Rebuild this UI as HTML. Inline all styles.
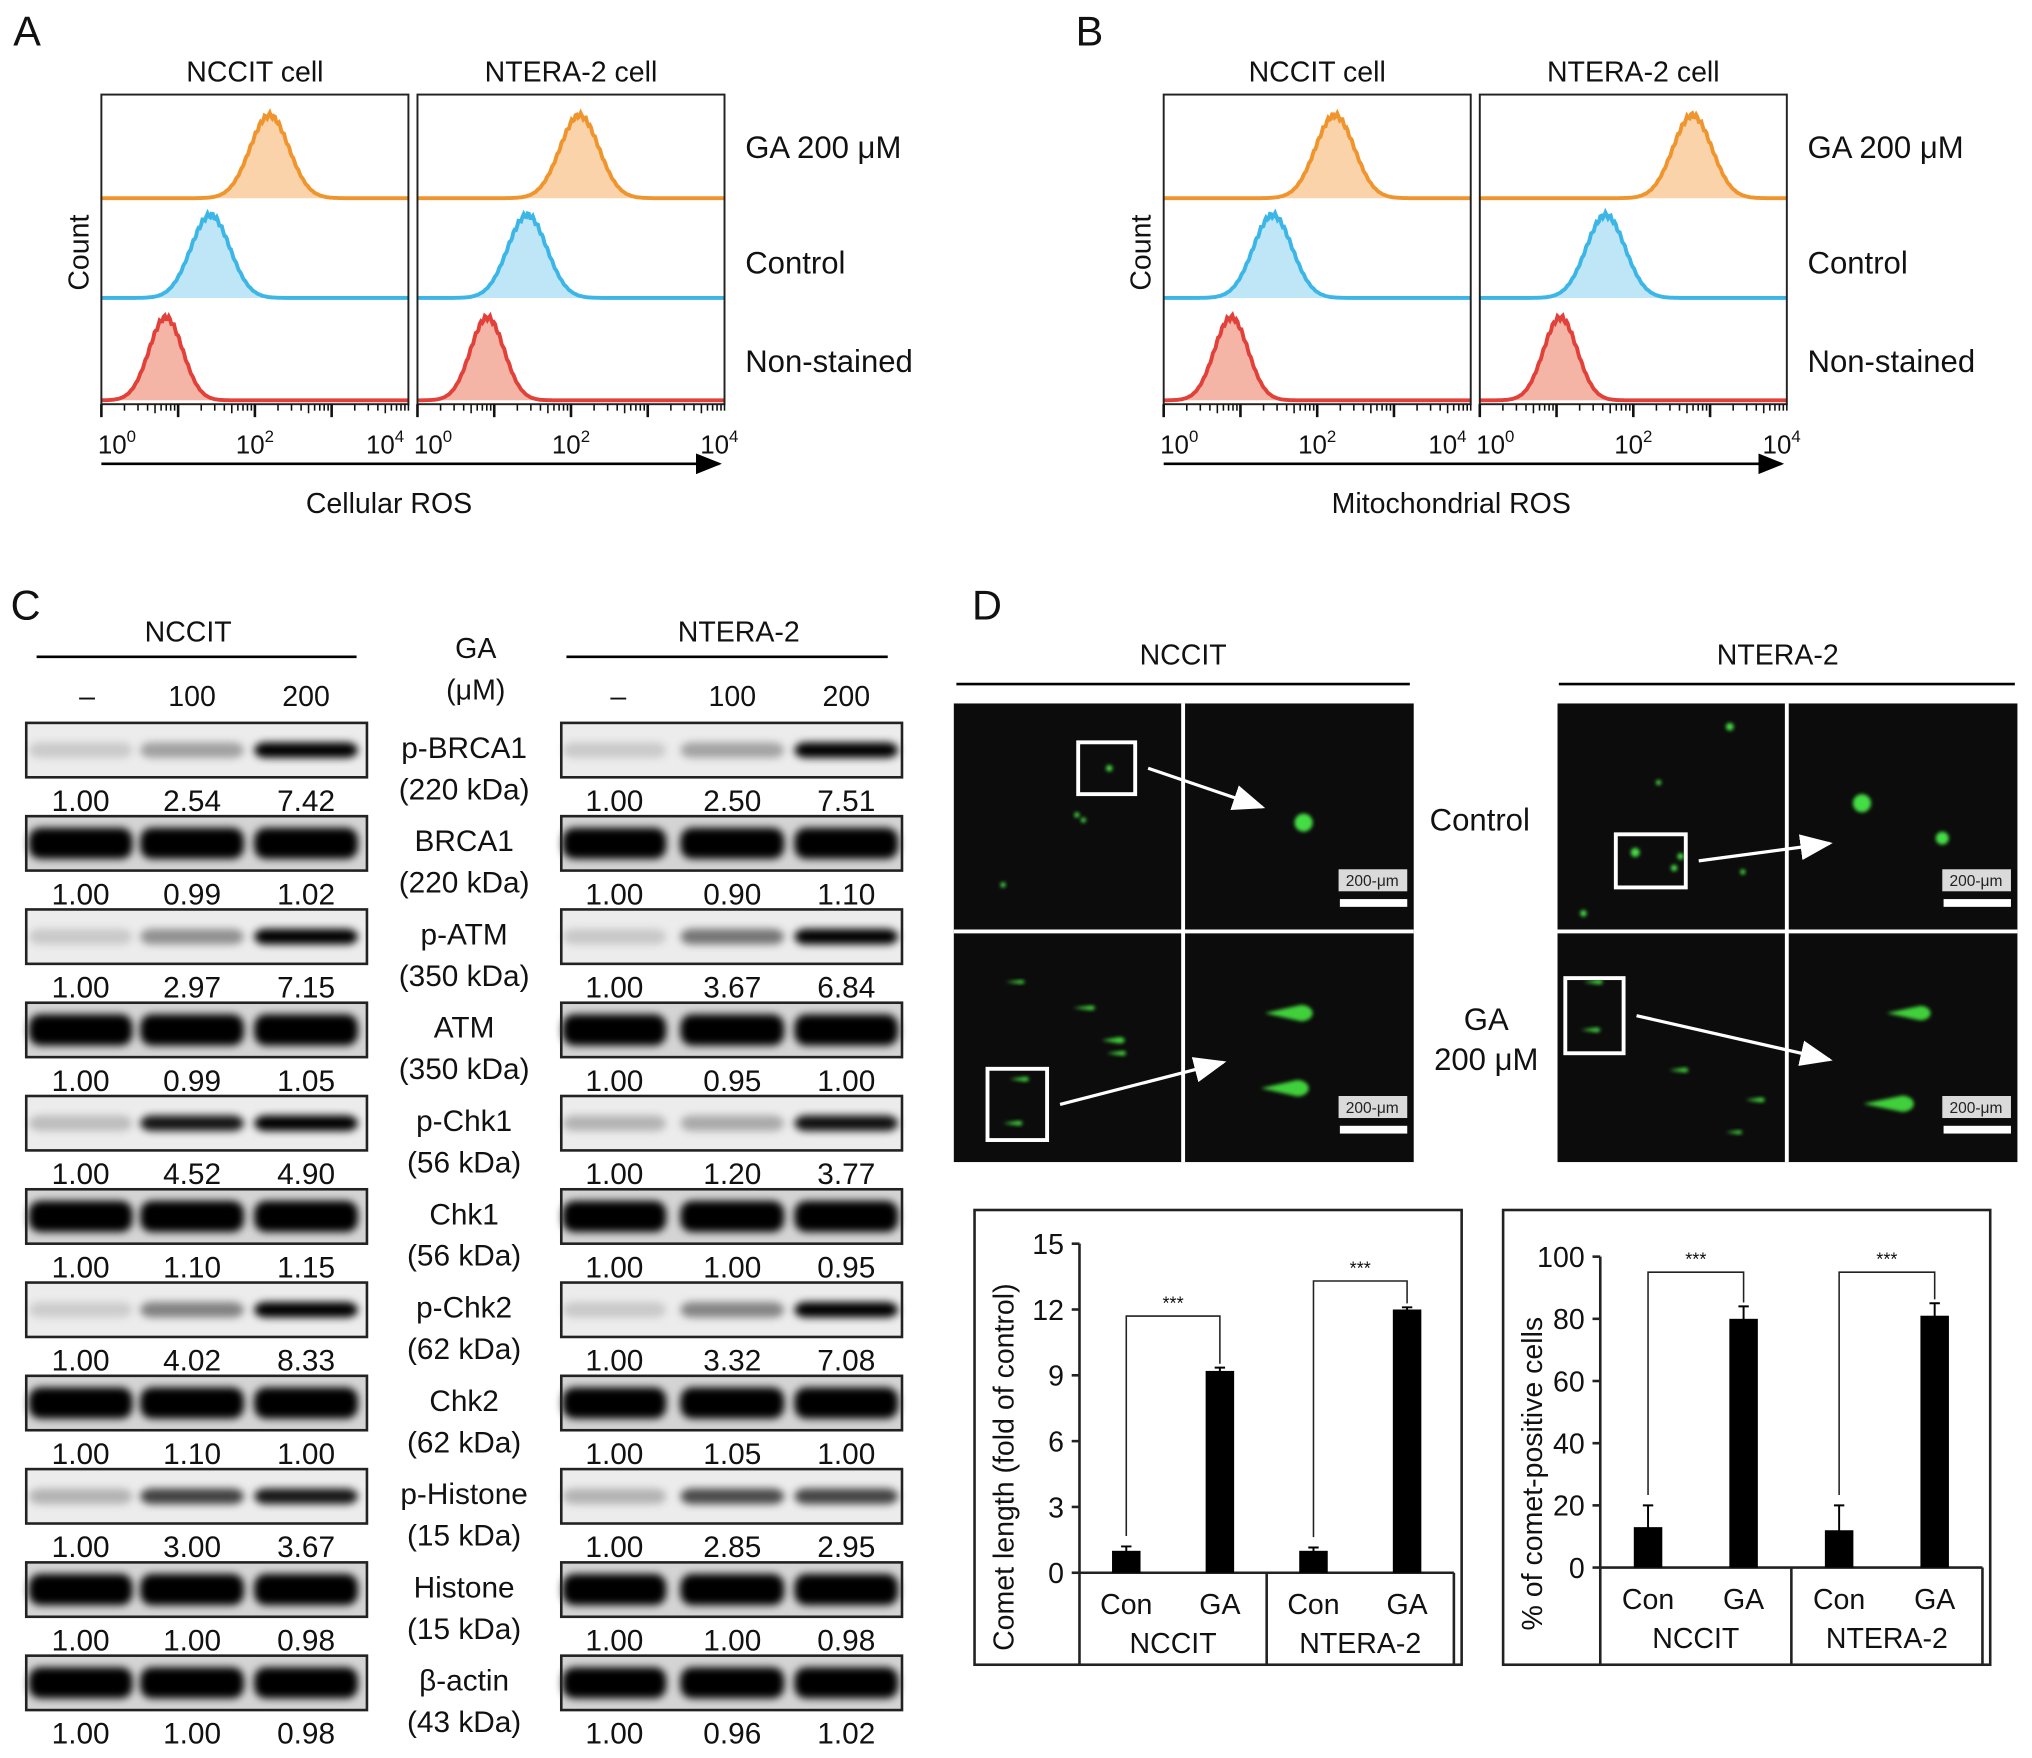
<!DOCTYPE html>
<html><head><meta charset="utf-8"><style>
html,body{margin:0;padding:0;background:#fff;}
svg{display:block;font-family:"Liberation Sans",sans-serif;}
</style></head><body>
<svg id="fig" width="2032" height="1758" viewBox="0 0 1568 1357" xmlns="http://www.w3.org/2000/svg">
<defs>
<filter id="blur" x="-20%" y="-50%" width="140%" height="200%"><feGaussianBlur stdDeviation="3"/></filter>
<filter id="gblur" x="-50%" y="-50%" width="200%" height="200%"><feGaussianBlur stdDeviation="1.5"/></filter>
<marker id="arr" markerWidth="10" markerHeight="8" refX="9" refY="4" orient="auto"><path d="M0,0 L10,4 L0,8 z" fill="#000"/></marker>
<marker id="warr" markerWidth="10" markerHeight="8" refX="9" refY="4" orient="auto"><path d="M0,0 L10,4 L0,8 z" fill="#fff"/></marker>
</defs>
</svg>
<script>
// ---------- data ----------
const cellRosNccit=[2.19,1.42,0.84];
const cellRosNtera=[2.11,1.43,0.91];
const mitoRosNccit=[2.23,1.42,0.88];
const mitoRosNtera=[2.77,1.64,1.05];
const histTickLabels=['0','2','4'];
const blotProteins=['p-BRCA1','BRCA1','p-ATM','ATM','p-Chk1','Chk1','p-Chk2','Chk2','p-Histone','Histone','β-actin'];
const blotSizes=['(220 kDa)','(220 kDa)','(350 kDa)','(350 kDa)','(56 kDa)','(56 kDa)','(62 kDa)','(62 kDa)','(15 kDa)','(15 kDa)','(43 kDa)'];
const blotNccit=[[1.00,2.54,7.42],[1.00,0.99,1.02],[1.00,2.97,7.15],[1.00,0.99,1.05],[1.00,4.52,4.90],[1.00,1.10,1.15],[1.00,4.02,8.33],[1.00,1.10,1.00],[1.00,3.00,3.67],[1.00,1.00,0.98],[1.00,1.00,0.98]];
const blotNtera=[[1.00,2.50,7.51],[1.00,0.90,1.10],[1.00,3.67,6.84],[1.00,0.95,1.00],[1.00,1.20,3.77],[1.00,1.00,0.95],[1.00,3.32,7.08],[1.00,1.05,1.00],[1.00,2.85,2.95],[1.00,1.00,0.98],[1.00,0.96,1.02]];
const doseLabels=['–','100','200'];
const barCats=['Con','GA','Con','GA'];
const groupLabels=['NCCIT','NTERA-2'];
const cometLength=[1.0,9.2,1.0,12.0];
const cometLengthErr=[0.2,0.15,0.15,0.1];
const cometLengthTicks=[0,3,6,9,12,15];
const cometPos=[13,80,12,81];
const cometPosErr=[7,4,8,4];
const cometPosTicks=[0,20,40,60,80,100];

// ---------- helpers ----------
const svg=document.getElementById('fig');
const NS='http://www.w3.org/2000/svg';
function mk(tag,attrs,parent){const e=document.createElementNS(NS,tag);for(const k in attrs)e.setAttribute(k,attrs[k]);(parent||svg).appendChild(e);return e;}
function nm(e,n){


return e;}
function txt(x,y,s,size,anchor,name,extra){const t=mk('text',Object.assign({x:x,y:y,'font-size':size,'text-anchor':anchor||'middle',fill:'#111'},extra||{}));t.textContent=s;nm(t,name);return t;}

// ---------- Flow panels ----------
const rowBase=[153,230,309];
const rowCols=[['#f0952e','#fbd3aa'],['#3bb6e6','#bfe6f6'],['#e2413a','#f4b5a6']];
function histBox(x0,peaks,title,name,first){
  const x1=x0+237,dec=(x1-x0)/4;
  const g=mk('g',{});nm(g,name);
  txt((x0+x1)/2,63,title,22,'middle',name+'-title');
  peaks.forEach((p,i)=>{
    const b=rowBase[i],cx=x0+p*dec,sig=i===2?13:15,h=64;
    let d=`M${x0},${b}`;
    for(let x=x0;x<=x1;x+=1){const z=(x-cx)/sig;const y=b-h*Math.exp(-z*z/2)*(1+0.03*Math.sin(x*1.7));d+=` L${x},${y.toFixed(1)}`;}
    const f=mk('path',{d:d+` L${x1},${b} Z`,fill:rowCols[i][1],stroke:'none'},g);nm(f,name+'-fill-'+i);
    const l=mk('path',{d:d.replace(`M${x0},${b} L`,'M'),fill:'none',stroke:rowCols[i][0],'stroke-width':3},g);nm(l,name+'-curve-'+i);
  });
  const r=mk('rect',{x:x0,y:73,width:237,height:239,fill:'none',stroke:'#222','stroke-width':1.5},g);nm(r,name+'-frame');
  for(let dd=0;dd<4;dd++)for(let k=1;k<=10;k++){const x=x0+dd*dec+Math.log10(k)*dec;const L=k===1?10:(k===5?7:5);
    const t=mk('line',{x1:x,y1:312,x2:x,y2:312+L,stroke:'#111','stroke-width':k===1?2:1.2},g);nm(t,name+'-tick');}
  [0,2,4].forEach((v,i)=>{const x=x0+v*dec;const off=i===0?12:(i===2?(first?-18:-4):0);const t=txt(x+off,350,'10',20,'middle',name+'-tick-label');
    const s=mk('tspan',{'font-size':13,dy:-9},t);s.textContent=histTickLabels[i];});
}
function flowPanel(ox,letter,pa,pb,xlab){
  txt(ox+10,35,letter,32,'start','panel-label-'+letter);
  histBox(ox+78,pa,'NCCIT cell','hist-nccit-'+letter,true);
  histBox(ox+322,pb,'NTERA-2 cell','hist-ntera-'+letter,false);
  txt(ox+575,122,'GA 200 μM',24,'start','label-ga');
  txt(ox+575,211,'Control',24,'start','label-control');
  txt(ox+575,287,'Non-stained',24,'start','label-nonstained');
  txt(0,0,'Count',22,'middle','y-axis-title',{transform:`translate(${ox+68},195) rotate(-90)`});
  const a=mk('line',{x1:ox+78,y1:358,x2:ox+555,y2:358,stroke:'#000','stroke-width':2,'marker-end':'url(#arr)'});nm(a,'x-axis-arrow');
  txt(ox+300,396,xlab,22,'middle','x-axis-title');
}
flowPanel(0,'A',cellRosNccit,cellRosNtera,'Cellular ROS');
flowPanel(820,'B',mitoRosNccit,mitoRosNtera,'Mitochondrial ROS');

// ---------- Western blot ----------
txt(8,478,'C',32,'start','panel-label-C');
txt(145,495,'NCCIT',22,'middle','header-nccit');
nm(mk('line',{x1:28,y1:507,x2:275,y2:507,stroke:'#000','stroke-width':2}),'header-line-nccit');
txt(570,495,'NTERA-2',22,'middle','header-ntera');
nm(mk('line',{x1:437,y1:507,x2:685,y2:507,stroke:'#000','stroke-width':2}),'header-line-ntera');
txt(367,508,'GA',22,'middle','ga-label');txt(367,540,'(μM)',22,'middle','ga-unit');
const colN=[62,148,236],colT=[474,565,653];
doseLabels.forEach((d,i)=>{txt(colN[i]+(i===0?5:0),545,d,22,'middle','dose-nccit');txt(colT[i]+(i===0?3:0),545,d,22,'middle','dose-ntera');});
function blot(x0,cols,vals,r,name){
  const y=558+r*72;
  const g=mk('g',{});nm(g,name);
  const phos=blotProteins[r].startsWith('p-');
  const bg=mk('rect',{x:x0,y:y,width:263,height:42,fill:phos?'#ececec':'#d4d4d4'},g);nm(bg,name+'-bg');
  const mx=Math.max(...vals);
  vals.forEach((v,i)=>{
    const op=phos?Math.min(1,0.06+0.94*Math.pow(v/Math.max(mx,4),1.2)):1;
    const e=mk('rect',{x:cols[i]-40,y:y+(phos?15:9),width:80,height:phos?12:24,rx:9,fill:'#000','fill-opacity':op,filter:'url(#blur)'},g);nm(e,name+'-band');
    txt(cols[i],y+68,v.toFixed(2),23,'middle',name+'-value');
  });
  const f=mk('rect',{x:x0,y:y,width:263,height:42,fill:'none',stroke:'#222','stroke-width':2},g);nm(f,name+'-frame');
}
blotProteins.forEach((p,r)=>{
  blot(20,colN,blotNccit[r],r,'blot-nccit-'+p);
  blot(433,colT,blotNtera[r],r,'blot-ntera-'+p);
  txt(358,585+r*72,p,23,'middle','protein-label');
  txt(358,617+r*72,blotSizes[r],23,'middle','protein-size');
});

// ---------- Comet images ----------
txt(750,478,'D',32,'start','panel-label-D');
txt(913,513,'NCCIT',22,'middle','comet-header-nccit');
nm(mk('line',{x1:738,y1:528,x2:1088,y2:528,stroke:'#000','stroke-width':2}),'comet-line-nccit');
txt(1372,513,'NTERA-2',22,'middle','comet-header-ntera');
nm(mk('line',{x1:1203,y1:528,x2:1555,y2:528,stroke:'#000','stroke-width':2}),'comet-line-ntera');
function micro(x0,spotsC,spotsG,boxC,boxG,bigC,bigG,name){
  const g=mk('g',{});nm(g,name);
  nm(mk('rect',{x:x0,y:543,width:355,height:354,fill:'#0c0c0c'},g),name+'-bg');
  const spot=(x,y,rx,ry,tail)=>{if(tail){nm(mk('path',{d:`M${x-tail},${y} L${x},${y-ry} A${rx},${ry} 0 0 1 ${x},${y+ry} Z`,fill:'#3fd03a',filter:'url(#gblur)'},g),'comet');}
    else nm(mk('ellipse',{cx:x,cy:y,rx:rx,ry:ry,fill:'#44dd44',filter:'url(#gblur)'},g),'nucleus');};
  spotsC.forEach(s=>spot(x0+s[0],543+s[1],s[2],s[2],0));
  spotsG.forEach(s=>spot(x0+s[0],720+s[1],s[2],s[2]*0.6,s[3]));
  bigC.forEach(s=>spot(x0+s[0],543+s[1],s[2],s[2],0));
  bigG.forEach(s=>spot(x0+s[0],720+s[1],s[2],s[2]*0.7,s[3]));
  nm(mk('line',{x1:x0+177,y1:543,x2:x0+177,y2:897,stroke:'#fff','stroke-width':3},g),'divider');
  nm(mk('line',{x1:x0,y1:719,x2:x0+355,y2:719,stroke:'#fff','stroke-width':3},g),'divider');
  [[boxC,543],[boxG,720]].forEach(([b,oy])=>{
    nm(mk('rect',{x:x0+b[0],y:oy+b[1],width:b[2],height:b[3],fill:'none',stroke:'#fff','stroke-width':3},g),'zoom-box');
    nm(mk('line',{x1:x0+b[0]+b[2]+10,y1:oy+b[1]+b[3]/2+(b[4]||0),x2:x0+b[5],y2:oy+b[6],stroke:'#fff','stroke-width':2.5,'marker-end':'url(#warr)'},g),'zoom-arrow');
  });
  [692,867].forEach(yy=>{
    nm(mk('rect',{x:x0+297,y:yy-21,width:53,height:17,fill:'#fff','fill-opacity':0.85},g),'scale-bg');
    txt(x0+323,yy-8,'200-μm',12,'middle','scale-label',{fill:'#222'});
    nm(mk('rect',{x:x0+298,y:yy+2,width:52,height:6,fill:'#fff'},g),'scale-bar');
  });
}
micro(736,[[120,50,2.5],[95,86,2],[100,90,2],[38,140,2]],[[52,38,2.5,12],[106,58,3,14],[128,83,4,14],[130,93,3,12],[55,113,3,12],[50,147,3,12]],
  [96,30,44,40,0,238,80],[26,105,46,55,0,208,100],[[270,92,7]],[[268,62,9,28],[265,120,9,28]],'micrograph-nccit');
micro(1202,[[133,18,3],[78,61,2],[95,118,2.5],[60,115,3.5],[90,127,2.5],[143,130,2],[20,162,2.5]],[[32,38,3,12],[30,75,3,12],[98,106,3,12],[157,129,3,12],[140,154,2.5,10]],
  [45,101,54,41,0,210,108],[6,35,45,58,0,210,98],[[235,77,7],[297,104,5]],[[280,62,8,26],[266,132,9,30]],'micrograph-ntera');
txt(1142,641,'Control',24,'middle','comet-label-control');
txt(1147,795,'GA',24,'middle','comet-label-ga');
txt(1147,826,'200 μM',24,'middle','comet-label-ga-dose');

// ---------- Bar charts ----------
function barChart(fx,ax,ymax,ticks,vals,errs,ytitle,brk,name){
  const g=mk('g',{});nm(g,name);
  const top=ymax===15?960:970,bot=ymax===15?1214:1210;
  const y=v=>bot-(v/ymax)*(bot-top);
  nm(mk('rect',{x:fx,y:934,width:376,height:351,fill:'none',stroke:'#222','stroke-width':2},g),name+'-frame');
  nm(mk('line',{x1:ax,y1:top,x2:ax,y2:1285,stroke:'#222','stroke-width':2},g),name+'-y-axis');
  nm(mk('line',{x1:ax,y1:bot,x2:fx+370,y2:bot,stroke:'#222','stroke-width':2},g),name+'-x-axis');
  nm(mk('line',{x1:fx+370,y1:bot,x2:fx+370,y2:1285,stroke:'#222','stroke-width':2},g),name+'-right-line');
  const w=fx+370-ax,half=w/2;
  nm(mk('line',{x1:ax+half,y1:bot,x2:ax+half,y2:1285,stroke:'#222','stroke-width':2},g),name+'-group-divider');
  ticks.forEach(t=>{nm(mk('line',{x1:ax-6,y1:y(t),x2:ax,y2:y(t),stroke:'#222','stroke-width':2},g),name+'-tick');
    txt(ax-12,y(t)+8,String(t),22,'end',name+'-tick-label');});
  txt(0,0,ytitle,22,'middle',name+'-y-title',{transform:`translate(${fx+30},${(top+1285)/2+10}) rotate(-90)`});
  const cx=[ax+half*0.25,ax+half*0.75,ax+half*1.25,ax+half*1.75];
  vals.forEach((v,i)=>{
    nm(mk('rect',{x:cx[i]-11,y:y(v),width:22,height:bot-y(v),fill:'#000'},g),name+'-bar-'+i);
    nm(mk('path',{d:`M${cx[i]},${y(v+errs[i])} V${y(v-errs[i])} M${cx[i]-4},${y(v+errs[i])} H${cx[i]+4} M${cx[i]-4},${y(v-errs[i])} H${cx[i]+4}`,stroke:'#000','stroke-width':1.5,fill:'none'},g),name+'-error-'+i);
    txt(cx[i],bot+32,barCats[i],22,'middle',name+'-x-label');
  });
  [0,1].forEach(k=>{
    txt(ax+half*(k+0.5),bot+62,groupLabels[k],22,'middle',name+'-group-label');
    const a=cx[2*k],b=cx[2*k+1],yy=y(brk[k]);
    nm(mk('path',{d:`M${a},${y(vals[2*k]+errs[2*k])-8} V${yy} H${b} V${y(vals[2*k+1]+errs[2*k+1])-3}`,stroke:'#222','stroke-width':1.2,fill:'none'},g),name+'-sig-bracket');
    txt((a+b)/2,yy-5,'***',14,'middle',name+'-sig-stars');
  });
}
barChart(752,833,15,cometLengthTicks,cometLength,cometLengthErr,'Comet length (fold of control)',[11.7,13.3],'comet-length-chart');
barChart(1160,1235,100,cometPosTicks,cometPos,cometPosErr,'% of comet-positive cells',[95,95],'comet-positive-chart');
</script>
</body></html>
